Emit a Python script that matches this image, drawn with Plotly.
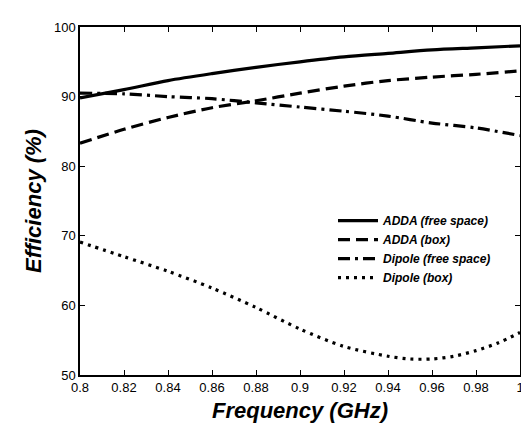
import plotly.graph_objects as go

freq = [0.80, 0.82, 0.84, 0.86, 0.88, 0.90, 0.92, 0.94, 0.96, 0.98, 1.00]
adda_free = [89.8, 91.0, 92.3, 93.3, 94.2, 95.0, 95.7, 96.2, 96.7, 97.0, 97.3]
adda_box = [83.3, 85.3, 87.0, 88.4, 89.4, 90.5, 91.5, 92.3, 92.8, 93.2, 93.7]
dipole_free = [90.5, 90.4, 90.0, 89.7, 89.1, 88.5, 87.9, 87.2, 86.2, 85.5, 84.4]
freq_db = [0.80, 0.82, 0.84, 0.86, 0.88, 0.90, 0.92, 0.94, 0.95, 0.96, 0.97, 0.98, 0.99, 1.00]
dipole_box = [69.1, 67.0, 64.9, 62.5, 59.7, 56.6, 54.1, 52.7, 52.3, 52.3, 52.7, 53.5, 54.6, 56.1]

FONT = "Liberation Sans"

fig = go.Figure()
fig.add_trace(go.Scatter(x=freq, y=adda_free, mode="lines", name="ADDA (free space)",
                         line=dict(color="black", width=3.2, shape="spline", smoothing=0.8)))
fig.add_trace(go.Scatter(x=freq, y=adda_box, mode="lines", name="ADDA (box)",
                         line=dict(color="black", width=3.2, dash="12px,6px", shape="spline", smoothing=0.8)))
fig.add_trace(go.Scatter(x=freq, y=dipole_free, mode="lines", name="Dipole (free space)",
                         line=dict(color="black", width=3.2, dash="12px,5px,3px,5px", shape="spline", smoothing=0.8)))
fig.add_trace(go.Scatter(x=freq_db, y=dipole_box, mode="lines", name="Dipole (box)",
                         line=dict(color="black", width=3.2, dash="3px,5px", shape="spline", smoothing=0.8)))

axis_common = dict(showgrid=False, zeroline=False, showline=True, linecolor="black", linewidth=1.5,
                   mirror="ticks", ticks="inside", ticklen=5, tickcolor="black",
                   tickfont=dict(family=FONT, size=13, color="black"))

fig.update_layout(
    width=529, height=426,
    margin=dict(l=72, r=17, t=15, b=59),
    plot_bgcolor="white", paper_bgcolor="white",
    xaxis=dict(range=[0.8, 1.0], tickvals=[0.8, 0.82, 0.84, 0.86, 0.88, 0.9, 0.92, 0.94, 0.96, 0.98, 1.0],
               ticktext=["0.8", "0.82", "0.84", "0.86", "0.88", "0.9", "0.92", "0.94", "0.96", "0.98", "1"],
               title=dict(text="<b><i>Frequency (GHz)</i></b>", standoff=8,
                          font=dict(family=FONT, size=22, color="black")),
               **axis_common),
    yaxis=dict(range=[50, 100], tickvals=[50, 60, 70, 80, 90, 100],
               title=dict(text="<b><i>Efficiency (%)</i></b>", standoff=6,
                          font=dict(family=FONT, size=22, color="black")),
               **axis_common),
    legend=dict(x=0.575, y=0.485, xanchor="left", yanchor="top", bgcolor="rgba(0,0,0,0)",
                font=dict(family=FONT, size=12, color="black"),
                tracegroupgap=0, itemwidth=40),
    showlegend=True,
)
for t in fig.data:
    t.name = "<b><i>" + t.name + "</i></b>"

fig.write_html("out.html")
